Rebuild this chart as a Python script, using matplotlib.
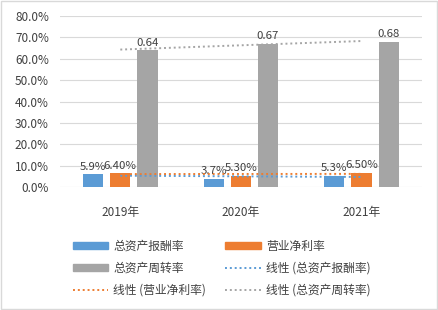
import numpy as np
import matplotlib.pyplot as plt
from matplotlib.patches import Patch, Rectangle
from matplotlib.lines import Line2D
from matplotlib.ticker import PercentFormatter

plt.rcParams['font.family'] = ['Noto Sans CJK SC', 'DejaVu Sans']

years = ["2019年", "2020年", "2021年"]
roa = [0.059, 0.037, 0.053]          # 总资产报酬率
net_margin = [0.064, 0.053, 0.065]   # 营业净利率
turnover = [0.64, 0.67, 0.68]        # 总资产周转率
roa_labels = ["5.9%", "3.7%", "5.3%"]
margin_labels = ["6.40%", "5.30%", "6.50%"]
turnover_labels = ["0.64", "0.67", "0.68"]

blue = "#5B9BD5"
orange = "#ED7D31"
gray = "#A5A5A5"

fig = plt.figure(figsize=(4.38, 3.10), dpi=100)
ax = fig.add_axes([0.137, 0.397, 0.826, 0.551])

x = np.arange(1, len(years) + 1)
off = 0.225
w = 0.167
ax.bar(x - off, roa, w, color=blue, zorder=3)
ax.bar(x, net_margin, w, color=orange, zorder=3)
ax.bar(x + off, turnover, w, color=gray, zorder=3)

for xs, vals, labs in [(x - off, roa, roa_labels), (x, net_margin, margin_labels),
                       (x + off, turnover, turnover_labels)]:
    for xi, v, t in zip(xs, vals, labs):
        ax.text(xi, v + 0.012, t, ha="center", va="bottom", fontsize=8.2, color="#404040", zorder=4)

# linear trendlines across category positions
for vals, c in [(roa, blue), (net_margin, orange), (turnover, gray)]:
    k, b = np.polyfit(x, vals, 1)
    ax.plot(x, k * x + b, linestyle=(0, (1, 1.5)), color=c, lw=1.4, zorder=5)

ax.set_xlim(0.5, 3.5)
ax.set_ylim(0, 0.8)
ax.set_yticks(np.arange(0, 0.81, 0.1))
ax.yaxis.set_major_formatter(PercentFormatter(1.0, decimals=1))
ax.set_xticks(x)
ax.set_xticklabels(years)
ax.tick_params(axis="both", length=0, labelsize=8.5, labelcolor="#404040")
ax.tick_params(axis="x", pad=14)
ax.tick_params(axis="y", pad=8)
ax.grid(axis="y", color="#D9D9D9", lw=0.8, zorder=0)
for s in ax.spines.values():
    s.set_visible(False)

handles = [
    Patch(color=blue, label="总资产报酬率"),
    Patch(color=gray, label="总资产周转率"),
    Line2D([], [], color=orange, ls=(0, (1, 1.5)), lw=1.4, label="线性 (营业净利率)"),
    Patch(color=orange, label="营业净利率"),
    Line2D([], [], color=blue, ls=(0, (1, 1.5)), lw=1.4, label="线性 (总资产报酬率)"),
    Line2D([], [], color=gray, ls=(0, (1, 1.5)), lw=1.4, label="线性 (总资产周转率)"),
]
leg = fig.legend(handles=handles, ncol=2, loc="center", bbox_to_anchor=(0.506, 0.135),
                 frameon=False, fontsize=8.5, handlelength=3.0, handleheight=0.5,
                 handletextpad=0.45, columnspacing=1.6, labelspacing=0.75)
for t in leg.get_texts():
    t.set_color("#404040")

fig.patches.append(Rectangle((0.002, 0.003), 0.995, 0.994, transform=fig.transFigure,
                             fill=False, edgecolor="#D9D9D9", lw=1))

fig.savefig("out.png", dpi=100)
